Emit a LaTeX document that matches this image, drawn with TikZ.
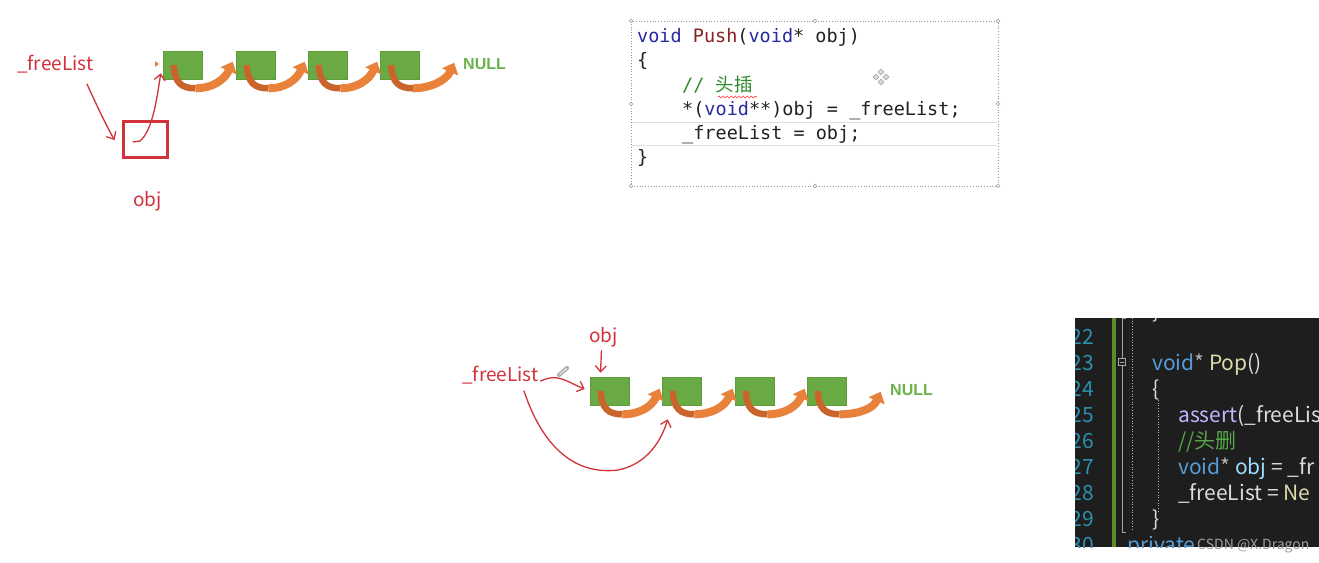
\documentclass[tikz,border=0pt]{standalone}
\usepackage{fontspec}
\newfontfamily\hand{Noto Sans CJK SC}
\newfontfamily\mono{DejaVu Sans Mono}
\newfontfamily\cjk{Noto Sans CJK SC}
\newfontfamily\nullfnt{Liberation Sans}
\usetikzlibrary{arrows.meta,decorations.pathmorphing,calc}
\definecolor{hred}{HTML}{D2323C}
\definecolor{boxg}{HTML}{6AAA45}
\definecolor{boxgd}{HTML}{5E9C3C}
\definecolor{nullg}{HTML}{6CB24A}
\definecolor{arrO}{HTML}{E8823A}
\definecolor{arrOd}{HTML}{C8642C}
\definecolor{kw}{HTML}{2A2AA0}
\definecolor{fn}{HTML}{8A2222}
\definecolor{cm}{HTML}{2E8B2E}
\definecolor{ctext}{HTML}{222222}
\definecolor{framec}{HTML}{8A9BB0}
\definecolor{dk}{HTML}{1E1E1E}
\definecolor{lnum}{HTML}{2B91AF}
\definecolor{gbar}{HTML}{5E8A2E}
\definecolor{vkw}{HTML}{569CD6}
\definecolor{vfn}{HTML}{DCDCAA}
\definecolor{vtx}{HTML}{DCDCDC}
\definecolor{vmac}{HTML}{BEB7FF}
\definecolor{vcm}{HTML}{57A64A}
\definecolor{vvar}{HTML}{9CDCFE}
\definecolor{vop}{HTML}{B4B4B4}
\begin{document}
\begin{tikzpicture}[x=1pt,y=-1pt,
  gbox/.style={draw=boxgd, fill=boxg, line width=0.6pt, minimum width=39pt, minimum height=28pt, inner sep=0pt},
  lbl/.style={text=hred, font=\hand\fontsize{19}{19}\selectfont, inner sep=0pt, anchor=base west},
  nulllbl/.style={text=nullg, font=\nullfnt\bfseries\fontsize{16}{16}\selectfont, inner sep=0pt, anchor=base west},
  oarrA/.style={draw=arrOd, line width=6.5pt},
  oarrB/.style={draw=arrO, line width=8pt, -{Triangle[length=10pt,width=17pt]}},
  hr/.style={draw=hred, line width=1.3pt, line cap=round, -{Straight Barb[length=6pt,width=11pt]}},
  code/.style={text=ctext, font=\mono\fontsize{18.5}{22}\selectfont, inner sep=0pt, anchor=base west},
  vs/.style={text=vtx, font=\cjk\fontsize{21}{21}\selectfont, inner sep=0pt, anchor=base west},
  ln/.style={text=lnum, font=\cjk\fontsize{21}{21}\selectfont, inner sep=0pt, anchor=base east},
  handle/.style={draw=gray!80, fill=white, line width=0.5pt}
]
\useasboundingbox (0,0) rectangle (1319,562);
\fill[white] (0,0) rectangle (1319,562);

% ---------- top-left list ----------
\node[lbl] (ft) at (17,70) {\_freeList};
\node[gbox] (t1) at (182.5,65) {};
\node[gbox] (t2) at (255.5,65) {};
\node[gbox] (t3) at (327.5,65) {};
\node[gbox] (t4) at (400,65) {};
\node[nulllbl] (tnull) at (463,69) {NULL};
\node[draw=hred, line width=3pt, minimum width=44pt, minimum height=36pt, inner sep=0pt] (sq) at (145,139) {};
\node[lbl] (tobj) at (133,206) {obj};

\coordinate (te2) at ($(t2.north west)+(-3,11)$);
\coordinate (te3) at ($(t3.north west)+(-3,11)$);
\coordinate (te4) at ($(t4.north west)+(-3,11)$);
\coordinate (te5) at ($(t4.north west)+(74,12)$);
\foreach \a/\e in {t1/te2,t2/te3,t3/te4,t4/te5}{
  \coordinate (s) at ($(\a.west)+(11,0)$);
  \coordinate (m) at ($(\a.south)+(13,9)$);
  \draw[oarrA] (s) .. controls +(1,18) and +(-14,0) .. (m);
  \draw[oarrB] (m) .. controls +(17,0) and +(-8,18) .. (\e);
}
\fill[arrO] (155,61) -- (159,64) -- (155,67) -- cycle;

\coordinate (h1) at ($(ft.base west)+(70,14)$);
\coordinate (h2) at ($(sq.west)+(-7,1)$);
\draw[hr] (h1) .. controls +(8,18) and +(-8,-14) .. (h2);
\coordinate (h3) at ($(sq.center)+(-12,3)$);
\coordinate (h4) at ($(t1.south west)+(-2,-6)$);
\draw[hr] (h3) -- +(7,-1) .. controls +(12,-10) and +(-4,28) .. (h4);

% ---------- code box top ----------
\draw[framec, dotted, line width=0.8pt] (631,21) rectangle (998,186);
\draw[gray!25, line width=0.8pt] (632,122) -- (997,122);
\draw[gray!25, line width=0.8pt] (632,145) -- (997,145);
\foreach \p in {(631,21),(815,21),(998,21),(631,104),(998,104),(631,186),(815,186),(998,186)}
  \draw[handle] \p circle (1.8);
\node[code] (c1) at (637,42) {\textcolor{kw}{void} \textcolor{fn}{Push}(\textcolor{kw}{void}* obj)};
\node[code] (c2) at (637,66) {\{};
\node[code] (c3) at (682,91) {\textcolor{cm}{// {\cjk 头插}}};
\node[code] (c4) at (682,115) {*(\textcolor{kw}{void}**)obj = \_freeList;};
\node[code] (c5) at (682,139) {\_freeList = obj;};
\node[code] (c6) at (637,163) {\}};
\draw[red!80, line width=0.6pt, decorate, decoration={snake, amplitude=1pt, segment length=4pt}] (718,97) -- (757,97);
% move icon
\foreach \dx/\dy in {0/-5,5/0,0/5,-5/0}
  \draw[gray!70, fill=gray!30, line width=0.5pt] (881+\dx,77+\dy-3) -- (881+\dx+3,77+\dy) -- (881+\dx,77+\dy+3) -- (881+\dx-3,77+\dy) -- cycle;

% ---------- bottom list ----------
\node[lbl] (bobj) at (589,342) {obj};
\node[lbl] (bf) at (462,381) {\_freeList};
\node[gbox] (b1) at (609.5,391) {};
\node[gbox] (b2) at (681.5,391) {};
\node[gbox] (b3) at (754.5,391) {};
\node[gbox] (b4) at (826.5,391) {};
\node[nulllbl] (bnull) at (890,395) {NULL};

\coordinate (be2) at ($(b2.north west)+(-2,12)$);
\coordinate (be3) at ($(b3.north west)+(-2,12)$);
\coordinate (be4) at ($(b4.north west)+(-2,12)$);
\coordinate (be5) at ($(b4.north west)+(74,15)$);
\foreach \a/\e in {b1/be2,b2/be3,b3/be4,b4/be5}{
  \coordinate (s) at ($(\a.west)+(11,0)$);
  \coordinate (m) at ($(\a.south)+(13,9)$);
  \draw[oarrA] (s) .. controls +(1,18) and +(-14,0) .. (m);
  \draw[oarrB] (m) .. controls +(17,0) and +(-8,18) .. (\e);
}
% pencil icon
\draw[gray!70, line width=4pt, line cap=round] (559,375) -- (567,368);
\draw[gray!25, line width=1.5pt, line cap=round] (559.5,374.5) -- (566.5,368.5);

\coordinate (k1) at ($(bobj.south)+(-2,4)$);
\coordinate (k2) at ($(b1.north)+(-9,-4)$);
\draw[hr] (k1) -- (k2);
\coordinate (k3) at ($(bf.base east)+(2,0)$);
\coordinate (k4) at ($(b1.west)+(-5,-2)$);
\draw[hr] (k3) .. controls +(18,-8) and +(-20,-8) .. (k4);
\coordinate (k5) at ($(bf.base west)+(62,10)$);
\coordinate (k6) at ($(b2.south west)+(6,14)$);
\draw[hr] (k5) .. controls +(20,60) and +(-40,5) .. (618,470) .. controls +(30,-6) and +(-6,20) .. (k6);

% ---------- dark code panel ----------
\begin{scope}
\clip (1075,318) rectangle (1319,547);
\fill[dk] (1075,318) rectangle (1319,547);
\foreach \n [count=\i from 0] in {22,23,24,25,26,27,28,29,30}
  \node[ln] at (1094,344+26.1*\i) {\n};
\fill[gbar] (1112,318) rectangle (1116,547);
\draw[gray!70, line width=0.7pt] (1126,318.5) -- (1122,318.5) -- (1122,358);
\draw[gray!70, line width=0.7pt] (1122,366) -- (1122,532) -- (1126,532);
\draw[gray!70, line width=0.7pt] (1118.5,358.5) rectangle (1125.5,365.5);
\draw[gray!70, line width=0.7pt] (1120,362) -- (1124,362);
\draw[gray!60, dotted, line width=0.7pt] (1132,318) -- (1132,530);
\draw[gray!60, dotted, line width=0.7pt] (1158,400) -- (1158,512);
\node[vs] at (1152,318) {\}};
\node[vs] (p1) at (1152,370) {\textcolor{vkw}{void}\textcolor{vop}{*} \textcolor{vfn}{Pop}()};
\node[vs] at (1152,396) {\{};
\node[vs] at (1178,422) {\textcolor{vmac}{assert}(\_freeLis};
\node[vs] at (1178,448) {\textcolor{vcm}{//头删}};
\node[vs] at (1178,474) {\textcolor{vkw}{void}\textcolor{vop}{*} \textcolor{vvar}{obj} = \_fr};
\node[vs] at (1178,500) {\_freeList = \textcolor{vfn}{Ne}};
\node[vs] at (1152,526) {\}};
\node[vs] at (1127,552) {\textcolor{vkw}{private}};
\end{scope}
\node[text=gray!75, font=\cjk\fontsize{14}{14}\selectfont, inner sep=0pt, anchor=base west] (wm) at (1197,549) {CSDN @X.Dragon};
\end{tikzpicture}
\end{document}
